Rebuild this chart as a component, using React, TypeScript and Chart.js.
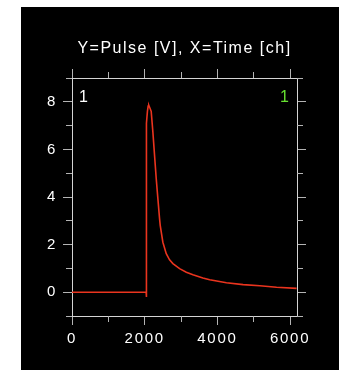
import React, { useEffect, useRef } from 'react';
import { Chart, registerables } from 'chart.js';

Chart.register(...registerables);

// ---- data ----
const timeCh = [0, 2040, 2042, 2044, 2058, 2075, 2095, 2113, 2140, 2179, 2224, 2270, 2317, 2362, 2408, 2427, 2500, 2593, 2684, 2776, 2960, 3145, 3327, 3600, 3788, 4248, 4707, 5167, 5628, 6179];
const pulseV = [0, 0, -0.2, 0.6, 7.1, 7.6, 7.82, 7.85, 7.75, 7.6, 6.75, 5.77, 4.78, 3.94, 3.1, 2.81, 2.1, 1.62, 1.36, 1.2, 0.99, 0.84, 0.73, 0.6, 0.52, 0.4, 0.32, 0.27, 0.21, 0.16];

const xMajorTicks = [0, 2000, 4000, 6000];
const xMinorTicks = [1000, 3000, 5000];
const yMajorTicks = [0, 2, 4, 6, 8];
const yMinorTicks = [-1, 1, 3, 5, 7, 9];

const titleText = 'Y=Pulse [V], X=Time [ch]';
const leftTag = '1';
const rightTag = '1';

const X_MIN = 0;
const X_MAX = 6190;
const Y_MIN = -1;
const Y_MAX = 9;

const FONT = "'Liberation Sans', Arial, sans-serif";
const AXIS_COLOR = '#d4d4d4';
const TICK_COLOR = '#b4b4b4';
const LINE_COLOR = 'rgb(234,52,30)';

const decorPlugin = {
  id: 'decor',
  beforeDraw(chart: any) {
    chart.ctx.letterSpacing = '1.7px';
  },
  afterDraw(chart: any) {
    const ctx = chart.ctx;
    const { left, right, top, bottom } = chart.chartArea;
    const xs = chart.scales.x;
    const ys = chart.scales.y;
    ctx.save();
    ctx.strokeStyle = TICK_COLOR;
    ctx.lineWidth = 1;
    const minorLen = 6;
    ctx.beginPath();
    xMinorTicks.forEach((v) => {
      const px = Math.round(xs.getPixelForValue(v) - 0.5) + 0.5;
      ctx.moveTo(px, bottom);
      ctx.lineTo(px, bottom + minorLen);
      ctx.moveTo(px, top);
      ctx.lineTo(px, top - minorLen);
    });
    yMinorTicks.forEach((v) => {
      const py = Math.round(ys.getPixelForValue(v) - 0.5) + 0.5;
      ctx.moveTo(left, py);
      ctx.lineTo(left - minorLen, py);
      ctx.moveTo(right, py);
      ctx.lineTo(right + minorLen, py);
    });
    ctx.stroke();

    ctx.letterSpacing = '1.5px';
    ctx.fillStyle = '#ffffff';
    ctx.font = `16px ${FONT}`;
    ctx.textBaseline = 'alphabetic';
    ctx.textAlign = 'center';
    ctx.fillText(titleText, (left + right) / 2, 53);

    ctx.textAlign = 'left';
    ctx.fillText(leftTag, left + 7, 102);
    ctx.fillStyle = '#66e030';
    ctx.fillText(rightTag, right - 17, 102);
    ctx.restore();
  },
};

const tickFont = { family: FONT, size: 15 };
const plainLabel = (v: any) => String(v);

function baseGrid() {
  return {
    display: true,
    drawOnChartArea: false,
    drawTicks: true,
    tickLength: 9,
    tickColor: TICK_COLOR,
    tickWidth: 1,
  };
}

export default function App() {
  const ref = useRef<HTMLCanvasElement>(null);

  useEffect(() => {
    const points = timeCh.map((t, i) => ({ x: t, y: pulseV[i] }));
    const chart = new Chart(ref.current as HTMLCanvasElement, {
      type: 'line',
      data: {
        datasets: [
          {
            data: points,
            borderColor: LINE_COLOR,
            borderWidth: 1.6,
            pointRadius: 0,
            tension: 0,
            fill: false,
            xAxisID: 'x',
            yAxisID: 'y',
          },
        ],
      },
      options: {
        animation: false,
        responsive: false,
        maintainAspectRatio: false,
        devicePixelRatio: 1,
        layout: { padding: 0 },
        plugins: {
          legend: { display: false },
          tooltip: { enabled: false },
          title: { display: false },
        },
        scales: {
          x: {
            type: 'linear',
            position: 'bottom',
            min: X_MIN,
            max: X_MAX,
            afterBuildTicks: (s: any) => {
              s.ticks = xMajorTicks.map((v) => ({ value: v }));
            },
            afterFit: (s: any) => {
              s.height = 54;
            },
            ticks: { color: '#ffffff', font: tickFont, padding: 5, maxRotation: 0, autoSkip: false, callback: plainLabel },
            grid: baseGrid(),
            border: { display: true, color: AXIS_COLOR, width: 1 },
          },
          x2: {
            type: 'linear',
            axis: 'x',
            position: 'top',
            min: X_MIN,
            max: X_MAX,
            afterBuildTicks: (s: any) => {
              s.ticks = xMajorTicks.map((v) => ({ value: v }));
            },
            afterFit: (s: any) => {
              s.height = 78;
            },
            ticks: { display: false },
            grid: baseGrid(),
            border: { display: true, color: AXIS_COLOR, width: 1 },
          },
          y: {
            type: 'linear',
            position: 'left',
            min: Y_MIN,
            max: Y_MAX,
            afterBuildTicks: (s: any) => {
              s.ticks = yMajorTicks.map((v) => ({ value: v }));
            },
            afterFit: (s: any) => {
              s.width = 72;
            },
            ticks: { color: '#ffffff', font: tickFont, padding: 6, autoSkip: false, callback: plainLabel },
            grid: baseGrid(),
            border: { display: true, color: AXIS_COLOR, width: 1 },
          },
          y2: {
            type: 'linear',
            axis: 'y',
            position: 'right',
            min: Y_MIN,
            max: Y_MAX,
            afterBuildTicks: (s: any) => {
              s.ticks = yMajorTicks.map((v) => ({ value: v }));
            },
            afterFit: (s: any) => {
              s.width = 42;
            },
            ticks: { display: false },
            grid: baseGrid(),
            border: { display: true, color: AXIS_COLOR, width: 1 },
          },
        },
      } as any,
      plugins: [decorPlugin],
    });
    return () => chart.destroy();
  }, []);

  return (
    <div style={{ position: 'absolute', left: 0, top: 0, width: 339, height: 370, overflow: 'hidden' }}>
      <div style={{ position: 'absolute', left: 21, top: 7, width: 318, height: 363, background: '#000' }} />
      <canvas
        ref={ref}
        width={339}
        height={370}
        style={{ position: 'absolute', left: 0, top: 0, width: 339, height: 370 }}
      />
    </div>
  );
}
